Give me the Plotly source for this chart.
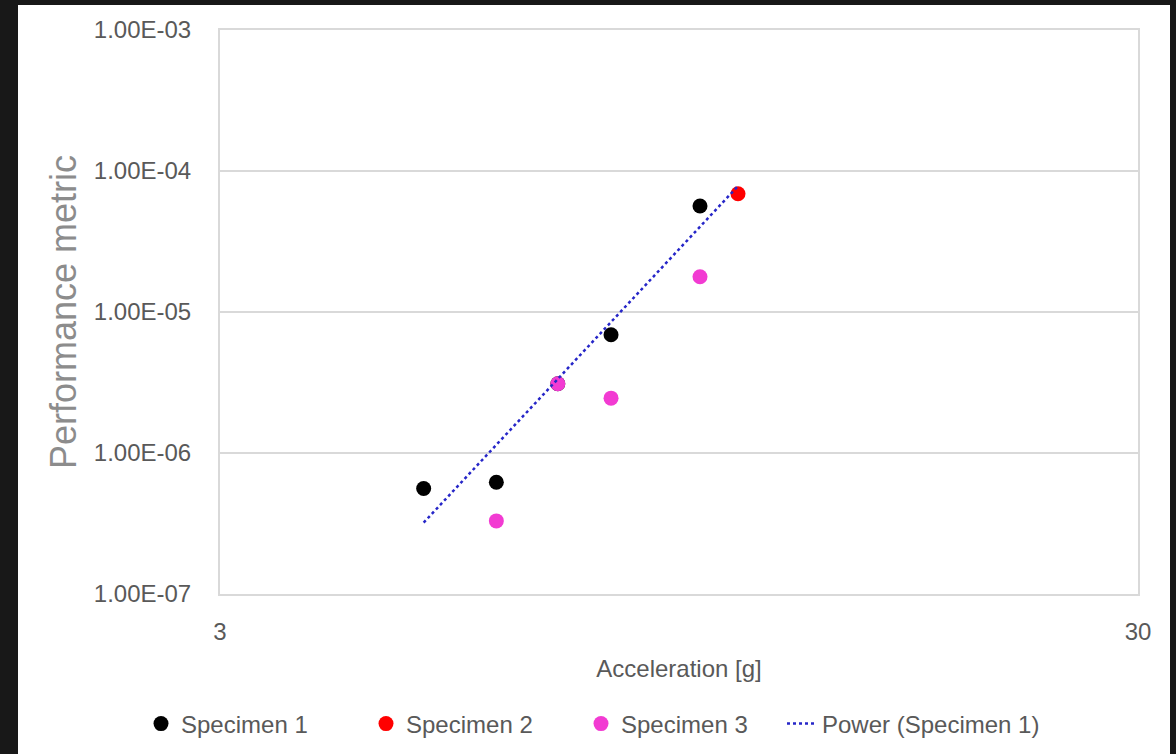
import numpy as np
import plotly.graph_objects as go

# Data
spec1_x = [5, 6, 7, 8, 10]
spec1_y = [5.6e-7, 6.2e-7, 3.1e-6, 6.9e-6, 5.65e-5]
spec2_x = [11]
spec2_y = [6.9e-5]
spec3_x = [6, 7, 8, 10]
spec3_y = [3.3e-7, 3.1e-6, 2.45e-6, 1.78e-5]

y_tickvals = [1e-7, 1e-6, 1e-5, 1e-4, 1e-3]
y_ticktext = ["1.00E-07", "1.00E-06", "1.00E-05", "1.00E-04", "1.00E-03"]
x_tickvals = [3, 30]
x_ticktext = ["3", "30"]

# Power trendline of Specimen 1 (least squares in log-log), forecast forward to x=11
coef = np.polyfit(np.log10(spec1_x), np.log10(spec1_y), 1)
trend_x = np.logspace(np.log10(5), np.log10(11), 50)
trend_y = 10 ** np.polyval(coef, np.log10(trend_x))

fig = go.Figure()
mk = dict(size=15, line=dict(width=0))
fig.add_trace(go.Scatter(x=spec1_x, y=spec1_y, mode="markers", name="Specimen 1",
                         marker=dict(color="#000000", **mk), legend="legend"))
fig.add_trace(go.Scatter(x=spec2_x, y=spec2_y, mode="markers", name="Specimen 2",
                         marker=dict(color="#FF0000", **mk), legend="legend2"))
fig.add_trace(go.Scatter(x=spec3_x, y=spec3_y, mode="markers", name="Specimen 3",
                         marker=dict(color="#F23BD2", **mk), legend="legend3"))
fig.add_trace(go.Scatter(x=trend_x, y=trend_y, mode="lines", name="Power (Specimen 1)",
                         line=dict(color="#2626C8", width=2.5, dash="dot"), legend="legend4"))

# white card
fig.add_shape(type="rect", xref="paper", yref="paper",
              x0=(18 - 220) / 918, x1=(1170 - 220) / 918,
              y0=-(160 + 20) / 564, y1=1 + 25 / 564,
              fillcolor="white", line=dict(width=0), layer="below")

FONT = "Liberation Sans, Arial, sans-serif"
LEG_Y = -(724 - 594) / 564


def leg(px):
    return dict(orientation="h", x=(px - 220) / 918, xanchor="left",
                y=LEG_Y, yanchor="middle",
                font=dict(family=FONT, size=24, color="#595959"),
                bgcolor="rgba(0,0,0,0)")


fig.update_layout(
    width=1176, height=754,
    paper_bgcolor="#181818", plot_bgcolor="white",
    margin=dict(l=220, r=38, t=30, b=160, autoexpand=False),
    font=dict(family=FONT, color="#595959"),
    showlegend=True,
    legend=leg(141), legend2=leg(366), legend3=leg(581), legend4=leg(782),
)
fig.update_xaxes(type="log", range=[np.log10(3), np.log10(30)],
                 tickvals=x_tickvals, ticktext=x_ticktext,
                 showgrid=False, zeroline=False,
                 showline=True, linecolor="#d9d9d9", linewidth=2, mirror=True,
                 ticks="outside", ticklen=15, tickcolor="rgba(0,0,0,0)",
                 tickfont=dict(size=24, color="#595959"),
                 title=dict(text="Acceleration [g]", standoff=16,
                            font=dict(size=24, color="#595959")))
fig.update_yaxes(type="log", range=[-7, -3],
                 tickvals=y_tickvals, ticktext=y_ticktext,
                 showgrid=True, gridcolor="#d9d9d9", gridwidth=2, zeroline=False,
                 showline=True, linecolor="#d9d9d9", linewidth=2, mirror=True,
                 ticks="outside", ticklen=22, tickcolor="rgba(0,0,0,0)",
                 tickfont=dict(size=24, color="#595959"),
                 title=dict(text="Performance metric", standoff=6,
                            font=dict(size=36, color="#8c8c8c")))

fig.write_html("out.html", config={"displayModeBar": False},
               post_script="document.body.style.margin='0';document.body.style.background='#181818';")
